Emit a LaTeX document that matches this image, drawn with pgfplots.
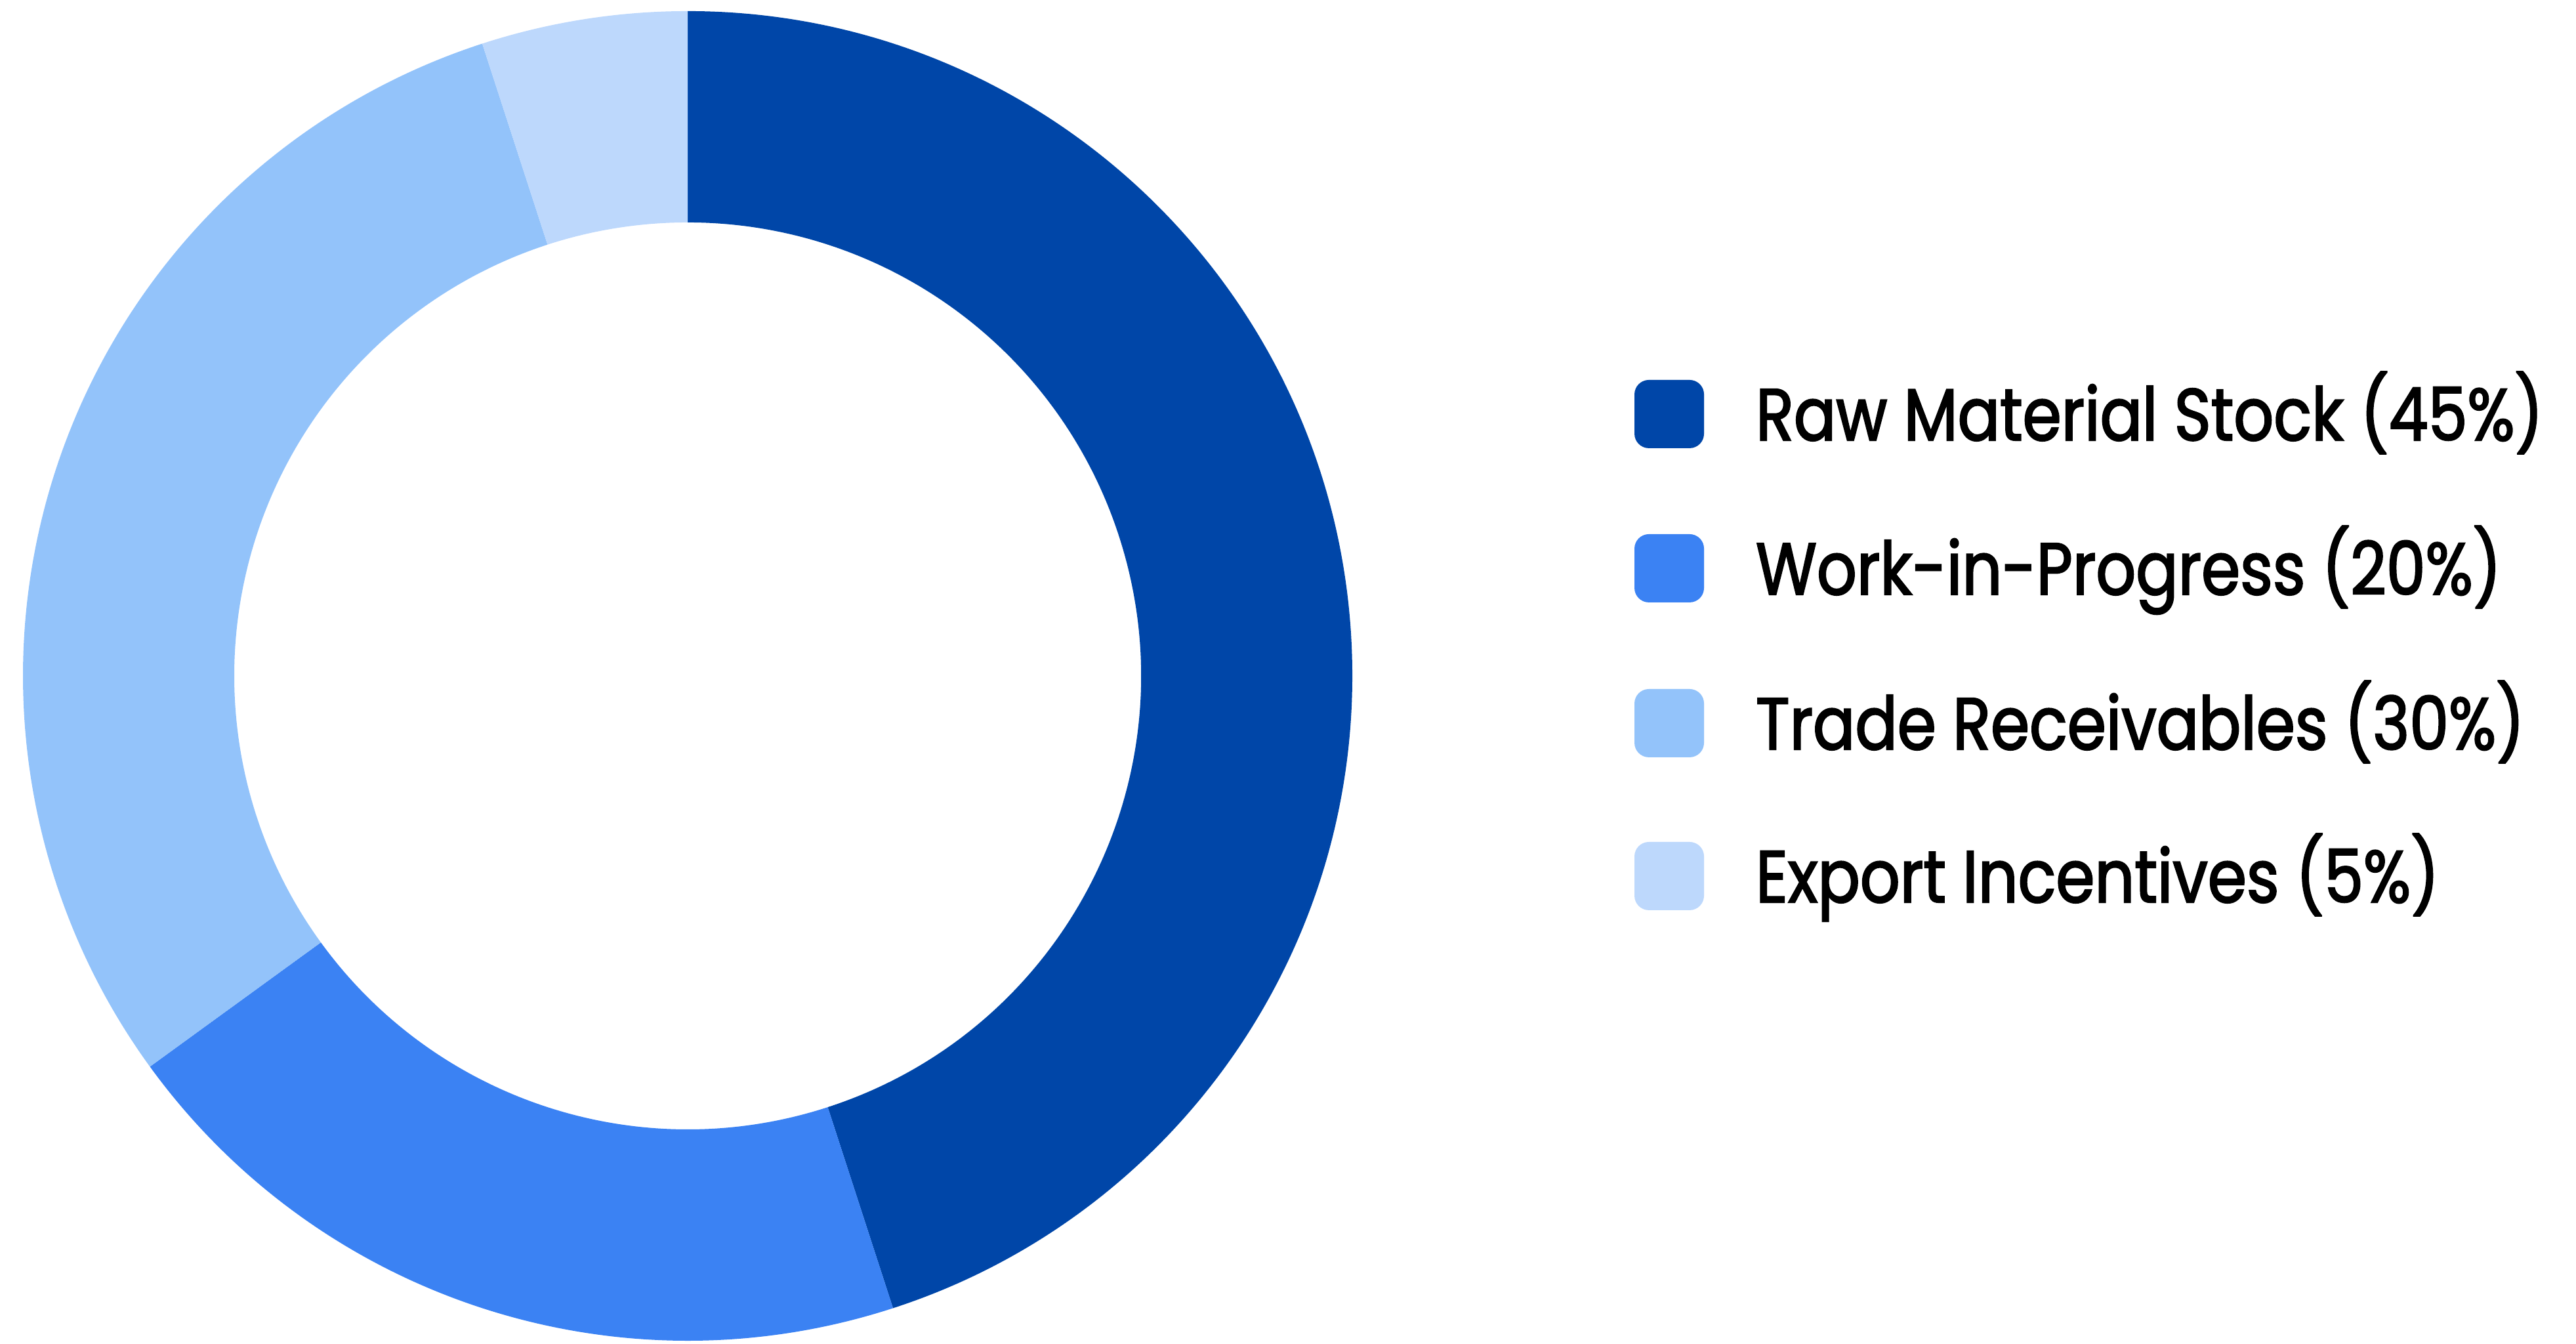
\documentclass[border=0pt]{standalone}
\usepackage{pgfplots}
\pgfplotsset{compat=1.18}
\usepackage{fontspec}
\setmainfont{Poppins}[FakeStretch=0.85, FakeBold=2]
\definecolor{cA}{HTML}{0046A8}
\definecolor{cB}{HTML}{3B82F3}
\definecolor{cC}{HTML}{93C3FA}
\definecolor{cD}{HTML}{BDD8FC}
\begin{document}
\begin{tikzpicture}
% shares (percent)
\def\vA{45}\def\vB{20}\def\vC{30}\def\vD{5}
\pgfmathsetmacro\aA{90}
\pgfmathsetmacro\aB{\aA-3.6*\vA}
\pgfmathsetmacro\aC{\aB-3.6*\vB}
\pgfmathsetmacro\aD{\aC-3.6*\vC}
\pgfmathsetmacro\aE{\aD-3.6*\vD}
\def\Ro{101.3pt}\def\Ri{69.1pt}
\begin{axis}[hide axis, scale only axis, width=392.6pt, height=204.8pt,
  xmin=0, xmax=3926, ymin=0, ymax=2048, clip=false]
\addplot[draw=none, forget plot] coordinates {(0,0) (3926,2048)};
\coordinate (C) at (axis cs:1048,1018);
\fill[cA] ([shift={(\aA:\Ro)}]C) arc[start angle=\aA, end angle=\aB, radius=\Ro]
  -- ([shift={(\aB:\Ri)}]C) arc[start angle=\aB, end angle=\aA, radius=\Ri] -- cycle;
\fill[cB] ([shift={(\aB:\Ro)}]C) arc[start angle=\aB, end angle=\aC, radius=\Ro]
  -- ([shift={(\aC:\Ri)}]C) arc[start angle=\aC, end angle=\aB, radius=\Ri] -- cycle;
\fill[cC] ([shift={(\aC:\Ro)}]C) arc[start angle=\aC, end angle=\aD, radius=\Ro]
  -- ([shift={(\aD:\Ri)}]C) arc[start angle=\aD, end angle=\aC, radius=\Ri] -- cycle;
\fill[cD] ([shift={(\aD:\Ro)}]C) arc[start angle=\aD, end angle=\aE, radius=\Ro]
  -- ([shift={(\aE:\Ri)}]C) arc[start angle=\aE, end angle=\aD, radius=\Ri] -- cycle;
% legend
\fill[cA, rounded corners=2.2pt] (axis cs:2491,1469) rectangle (axis cs:2597,1365);
\fill[cB, rounded corners=2.2pt] (axis cs:2491,1234) rectangle (axis cs:2597,1130);
\fill[cC, rounded corners=2.2pt] (axis cs:2491,998) rectangle (axis cs:2597,894);
\fill[cD, rounded corners=2.2pt] (axis cs:2491,765) rectangle (axis cs:2597,661);
\node[anchor=base west, inner sep=0pt, font=\fontsize{11.2}{13}\selectfont] at (axis cs:2674,1377) {Raw Material Stock (45\%)};
\node[anchor=base west, inner sep=0pt, font=\fontsize{11.2}{13}\selectfont] at (axis cs:2674,1142) {Work-in-Progress (20\%)};
\node[anchor=base west, inner sep=0pt, font=\fontsize{11.2}{13}\selectfont] at (axis cs:2674,906) {Trade Receivables (30\%)};
\node[anchor=base west, inner sep=0pt, font=\fontsize{11.2}{13}\selectfont] at (axis cs:2674,673) {Export Incentives (5\%)};
\end{axis}
\pgfresetboundingbox
\path (current axis.south west) rectangle (current axis.north east);
\end{tikzpicture}
\end{document}
